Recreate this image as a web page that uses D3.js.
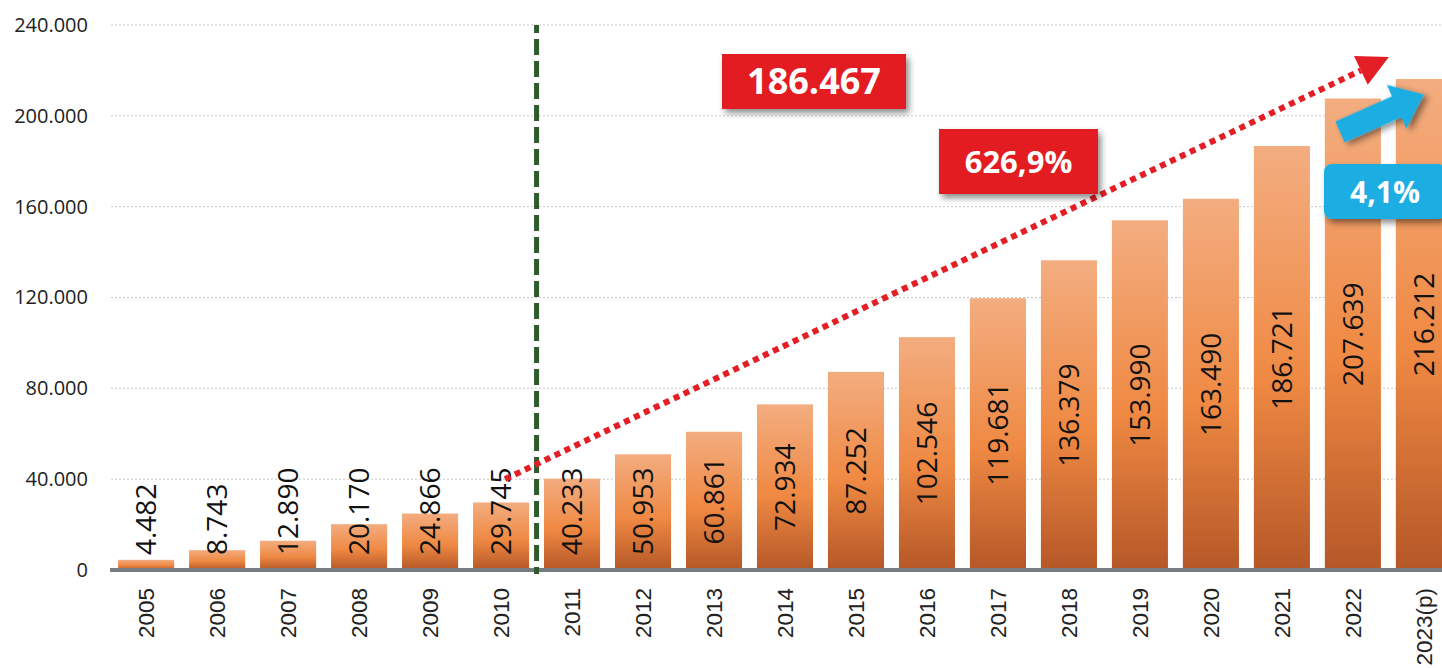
<!DOCTYPE html>
<html>
<head>
<meta charset="utf-8">
<script src="https://cdn.jsdelivr.net/npm/d3@7"></script>
<style>
  body { margin: 0; background: #fff; }
  svg { display: block; }
</style>
</head>
<body>
<div id="chart"></div>
<script>
var years = ["2005","2006","2007","2008","2009","2010","2011","2012","2013","2014",
             "2015","2016","2017","2018","2019","2020","2021","2022","2023(p)"];
var values = [4482, 8743, 12890, 20170, 24866, 29745, 40233, 50953, 60861, 72934,
              87252, 102546, 119681, 136379, 153990, 163490, 186721, 207639, 216212];
var yTicks = [0, 40000, 80000, 120000, 160000, 200000, 240000];

var width = 1442, height = 668;

var loc = d3.formatLocale({thousands: ".", decimal: ",", grouping: [3], currency: ["", ""]});
var fmt = loc.format(",");

var svg = d3.select("#chart")
    .append("svg")
      .attr("width", width)
      .attr("height", height);

var defs = svg.append("defs");

var grad = defs.append("linearGradient")
    .attr("id", "barGrad")
    .attr("x1", 0).attr("y1", 0).attr("x2", 0).attr("y2", 1);
grad.append("stop").attr("offset", "0%").attr("stop-color", "#f3ad80");
grad.append("stop").attr("offset", "55%").attr("stop-color", "#ef8943");
grad.append("stop").attr("offset", "100%").attr("stop-color", "#b55727");

var shadow = defs.append("filter")
    .attr("id", "shadow")
    .attr("x", "-20%").attr("y", "-30%").attr("width", "150%").attr("height", "170%");
shadow.append("feDropShadow")
    .attr("dx", 3).attr("dy", 4)
    .attr("stdDeviation", 3)
    .attr("flood-color", "#000")
    .attr("flood-opacity", 0.45);

// scales
var x = d3.scaleBand()
    .domain(years)
    .range([111, 1459])
    .paddingInner(0.21)
    .paddingOuter(0.1);

var y = d3.scaleLinear()
    .domain([0, 240000])
    .range([570, 25]);

// grid lines
svg.append("g")
  .selectAll("line")
  .data(yTicks.filter(function(d) { return d > 0; }))
  .enter()
  .append("line")
    .attr("x1", 111)
    .attr("x2", width)
    .attr("y1", function(d) { return y(d); })
    .attr("y2", function(d) { return y(d); })
    .attr("stroke", "#c9c9c9")
    .attr("stroke-width", 1)
    .attr("stroke-dasharray", "2,2");

// y axis
var yAxis = svg.append("g")
    .attr("transform", "translate(88,0)")
    .call(d3.axisLeft(y).tickValues(yTicks).tickSize(0).tickPadding(0).tickFormat(fmt));
yAxis.select(".domain").remove();
yAxis.selectAll("text")
    .attr("fill", "#222")
    .style("font-family", "'Open Sans', sans-serif")
    .style("font-size", "20px");

// bars
svg.append("g")
  .selectAll("rect")
  .data(values)
  .enter()
  .append("rect")
    .attr("x", function(d, i) { return x(years[i]); })
    .attr("y", function(d) { return y(d); })
    .attr("width", x.bandwidth())
    .attr("height", function(d) { return y(0) - y(d); })
    .attr("fill", "url(#barGrad)");

// baseline
svg.append("line")
    .attr("x1", 110).attr("x2", width)
    .attr("y1", y(0)).attr("y2", y(0))
    .attr("stroke", "#767c80")
    .attr("stroke-width", 4);

// x axis labels
var xAxis = svg.append("g")
    .attr("transform", "translate(0," + (y(0) + 18) + ")")
    .call(d3.axisBottom(x).tickSize(0).tickPadding(0));
xAxis.select(".domain").remove();
xAxis.selectAll("text")
    .attr("transform", "rotate(-90)")
    .attr("x", 0)
    .attr("y", 0)
    .attr("dy", "0.35em")
    .style("text-anchor", "end")
    .attr("fill", "#222")
    .style("font-family", "'Liberation Sans', Arial, sans-serif")
    .style("font-size", "22.5px");

// value labels
var labels = svg.append("g")
  .selectAll("text")
  .data(values)
  .enter()
  .append("text")
    .attr("text-anchor", "middle")
    .attr("dy", "0.36em")
    .attr("fill", "#111")
    .style("font-family", "'Open Sans', sans-serif")
    .style("font-weight", "500")
    .style("font-size", "28px")
    .text(function(d) { return fmt(d); });

labels.each(function(d, i) {
  var len = this.getComputedTextLength();
  var cx = x(years[i]) + x.bandwidth() / 2;
  var mid = (y(d) + y(0)) / 2;
  var cy = Math.min(mid, y(0) - 15 - len / 2);
  d3.select(this).attr("transform", "translate(" + cx + "," + cy + ") rotate(-90)");
});

// green dashed separator between 2010 and 2011
var sepX = x("2011") - (x.step() - x.bandwidth()) / 2;
svg.append("line")
    .attr("x1", sepX).attr("x2", sepX)
    .attr("y1", y(240000)).attr("y2", y(0) + 4)
    .attr("stroke", "#2f5b2c")
    .attr("stroke-width", 5)
    .attr("stroke-dasharray", "16,6")
    .attr("stroke-dashoffset", 8);

// red dotted growth arrow
var p0 = [x("2010") + x.bandwidth() / 2 + 4, y(40000)];
var p1 = [x("2022") + x.bandwidth() / 2 + 8, y(220000)];
var dx = p1[0] - p0[0], dy = p1[1] - p0[1];
var L = Math.sqrt(dx * dx + dy * dy);
var ux = dx / L, uy = dy / L;

svg.append("line")
    .attr("x1", p0[0]).attr("y1", p0[1])
    .attr("x2", p1[0]).attr("y2", p1[1])
    .attr("stroke", "#e31e24")
    .attr("stroke-width", 6)
    .attr("stroke-dasharray", "6,5");

svg.append("polygon")
    .attr("points", [
      [p1[0] + 31 * ux, p1[1] + 31 * uy],
      [p1[0] - 16 * uy, p1[1] + 16 * ux],
      [p1[0] + 16 * uy, p1[1] - 16 * ux]
    ].map(function(p) { return p.join(","); }).join(" "))
    .attr("fill", "#e31e24");

// red boxes
var redBoxes = [
  {x: 722, y: 54, w: 184, h: 55, text: "186.467", size: 36},
  {x: 939, y: 129, w: 159, h: 65, text: "626,9%", size: 31}
];
redBoxes.forEach(function(b) {
  svg.append("rect")
      .attr("x", b.x).attr("y", b.y)
      .attr("width", b.w).attr("height", b.h)
      .attr("fill", "#e31e24")
      .attr("filter", "url(#shadow)");
  svg.append("text")
      .attr("x", b.x + b.w / 2)
      .attr("y", b.y + b.h / 2)
      .attr("dy", "0.36em")
      .attr("text-anchor", "middle")
      .attr("fill", "#fff")
      .style("font-family", "'Open Sans', sans-serif")
      .style("font-weight", "700")
      .style("font-size", b.size + "px")
      .text(b.text);
});

// blue arrow
var arrow = [[0, -11.5], [62, -11.5], [62, -24], [92, 0], [62, 24], [62, 11.5], [0, 11.5]];
svg.append("polygon")
    .attr("points", arrow.map(function(p) { return p.join(","); }).join(" "))
    .attr("transform", "translate(1340,132) rotate(-24)")
    .attr("fill", "#1eaee3")
    .attr("filter", "url(#shadow)");

// blue box
svg.append("rect")
    .attr("x", 1324).attr("y", 164)
    .attr("width", 122).attr("height", 55)
    .attr("rx", 8)
    .attr("fill", "#1eaee3")
    .attr("filter", "url(#shadow)");
svg.append("text")
    .attr("x", 1385).attr("y", 192)
    .attr("dy", "0.36em")
    .attr("text-anchor", "middle")
    .attr("fill", "#fff")
    .style("font-family", "'Open Sans', sans-serif")
    .style("font-weight", "700")
    .style("font-size", "30px")
    .text("4,1%");
</script>
</body>
</html>
